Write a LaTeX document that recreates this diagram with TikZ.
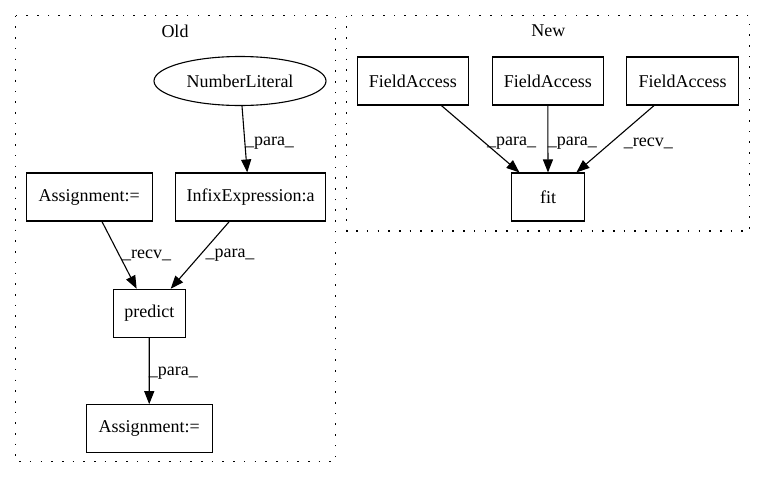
\documentclass[tikz,border=0pt]{standalone}
\usepackage{fontspec}
\setmainfont{Liberation Serif}
\usetikzlibrary{arrows.meta,shapes.geometric}
\begin{document}
\begin{tikzpicture}[x=1pt,y=-1pt,
  every node/.style={font=\fontsize{18}{20}\selectfont, inner sep=0pt},
  box/.style={draw, line width=1.1pt, rectangle, minimum height=48pt},
  oval/.style={draw, line width=1.1pt, ellipse, minimum width=172pt, minimum height=49pt},
  cluster/.style={draw, line width=1.1pt, dash pattern=on 1.6pt off 9.1pt},
  edge/.style={draw, line width=1.1pt, -{Triangle[length=13pt,width=10pt]}},
  lbl/.style={anchor=center}]
\useasboundingbox (0,0) rectangle (765,480);
% clusters
\draw[cluster] (15.7,15.7) rectangle (335.5,461.7);
\draw[cluster] (346.7,15.7) rectangle (749.5,231);
\node (oldlbl) at (175,31) {Old};
\node (newlbl) at (548.3,31) {New};
% old nodes
\node[oval] (num) at (240,81) {NumberLiteral};
\node[box, minimum width=150pt] (infix) at (250.7,197) {InfixExpression:a};
\node[box, minimum width=126pt] (asg1) at (89.3,197) {Assignment:=};
\node[box, minimum width=72pt] (pred) at (149.3,313.3) {predict};
\node[box, minimum width=125.7pt] (asg2) at (149.2,428.7) {Assignment:=};
% new nodes
\node[box, minimum width=111pt] (fa1) at (412.8,81) {FieldAccess};
\node[box, minimum width=111pt] (fa2) at (547.8,81) {FieldAccess};
\node[box, minimum width=111.6pt] (fa3) at (682.5,81) {FieldAccess};
\node[box, minimum width=72.6pt] (fit) at (548,197) {fit};
% edges
\draw[edge] ([xshift=2pt]num.south) -- ([xshift=-3.5pt]infix.north);
\draw[edge] (asg1) -- (pred);
\draw[edge] (infix) -- (pred);
\draw[edge] (pred) -- (asg2);
\draw[edge] (fa1) -- (fit);
\draw[edge] (fa2.south) -- (fit.north);
\draw[edge] (fa3) -- (fit);
% labels
\node[lbl] (l1) at (269.5,143) {\_para\_};
\node[lbl] (l2) at (146.7,255) {\_recv\_};
\node[lbl] (l3) at (230,255) {\_para\_};
\node[lbl] (l4) at (173.3,373) {\_para\_};
\node[lbl] (l5) at (511.7,143) {\_para\_};
\node[lbl] (l6) at (572.3,143) {\_para\_};
\node[lbl] (l7) at (648.3,143) {\_recv\_};
\end{tikzpicture}
\end{document}
